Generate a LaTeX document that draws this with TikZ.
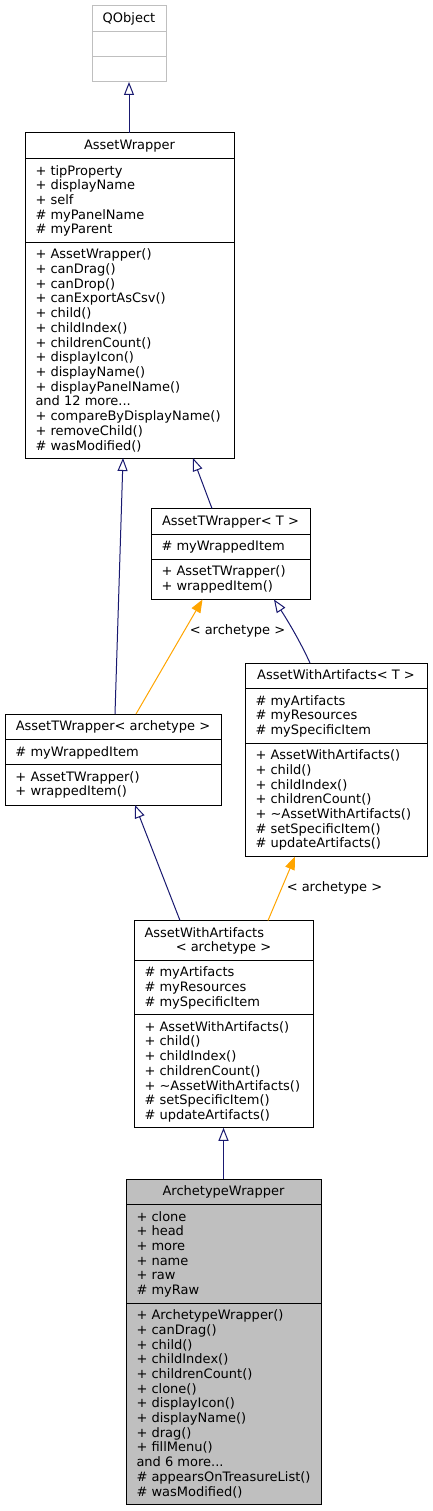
\documentclass[tikz,border=0pt]{standalone}
\usepackage{fontspec}
\setmainfont{DejaVu Sans}
\usetikzlibrary{arrows.meta,calc}
\definecolor{edgeblue}{HTML}{191970}
\definecolor{tmplorange}{HTML}{FFA500}
\definecolor{greyseventyfive}{HTML}{BFBFBF}
\newcommand\tdots{...}
\tikzset{
  frame/.style={draw=black, line width=1pt, fill=white, inner sep=0pt, outer sep=0pt, anchor=north west},
  txt/.style={inner sep=0pt, outer sep=0pt, font=\fontsize{13}{14.7}\selectfont, anchor=base west},
  ttl/.style={txt, anchor=base},
  divider/.style={draw=black, line width=1pt},
  inherit/.style={draw=edgeblue, line width=1pt, -{Triangle[open, length=13pt, width=10pt]}},
  tmpl/.style={draw=tmplorange, line width=1pt, -{Triangle[length=13pt, width=10pt]}},
  tlabel/.style={txt, anchor=base},
}
\newcommand\boxlines[4]{%
  \foreach \t [count=\i from 0] in {#4} {\node[txt] (#1-\i) at (#2, #3+\i*14.7) {\t};}}
\begin{document}
\begin{tikzpicture}[x=1pt,y=-1pt]
\fill[white] (0,0) rectangle (432,1511);
\useasboundingbox (0,0) rectangle (432,1511);

% QObject
\node[frame, draw=greyseventyfive, minimum width=74pt, minimum height=76pt] (qo) at (92,6) {};
\draw[divider, draw=greyseventyfive] (92,31.5) -- (166,31.5);
\draw[divider, draw=greyseventyfive] (92,56.5) -- (166,56.5);
\node[ttl] (qo-t) at (129,22.6) {QObject};

% AssetWrapper
\node[frame, minimum width=209pt, minimum height=325pt] (aw) at (25,133) {};
\draw[divider] (25,158.5) -- (234,158.5);
\draw[divider] (25,242.3) -- (234,242.3);
\node[ttl] (aw-t) at (129.5,149.6) {AssetWrapper};
\boxlines{awa}{35.5}{175.1}{+ tipProperty, + displayName, + self, \# myPanelName, \# myParent}
\boxlines{awm}{35.5}{258.9}{+ AssetWrapper(), + canDrag(), + canDrop(), + canExportAsCsv(), + child(), + childIndex(), + childrenCount(), + displayIcon(), + displayName(), + displayPanelName(), and 12 more\tdots, + compareByDisplayName(), + removeChild(), \# wasModified()}

% AssetTWrapper< T >
\node[frame, minimum width=159pt, minimum height=91pt] (atw) at (151,508.5) {};
\draw[divider] (151,534) -- (310,534);
\draw[divider] (151,559) -- (310,559);
\node[ttl] (atw-t) at (230.5,525.1) {AssetTWrapper< T >};
\boxlines{atwa}{161.5}{550.6}{\# myWrappedItem}
\boxlines{atwm}{161.5}{575.6}{+ AssetTWrapper(), + wrappedItem()}

% AssetWithArtifacts< T >
\node[frame, minimum width=182pt, minimum height=193.6pt] (awat) at (245,663) {};
\draw[divider] (245,688.5) -- (427,688.5);
\draw[divider] (245,743) -- (427,743);
\node[ttl] (awat-t) at (336,679.6) {AssetWithArtifacts< T >};
\boxlines{awata}{255.5}{705.1}{\# myArtifacts, \# myResources, \# mySpecificItem}
\boxlines{awatm}{255.5}{759.6}{+ AssetWithArtifacts(), + child(), + childIndex(), + childrenCount(), + \textasciitilde AssetWithArtifacts(), \# setSpecificItem(), \# updateArtifacts()}

% AssetTWrapper< archetype >
\node[frame, minimum width=216pt, minimum height=91pt] (atwx) at (5,714) {};
\draw[divider] (5,739.5) -- (221,739.5);
\draw[divider] (5,764.5) -- (221,764.5);
\node[ttl] (atwx-t) at (113,730.6) {AssetTWrapper< archetype >};
\boxlines{atwxa}{15.5}{756.1}{\# myWrappedItem}
\boxlines{atwxm}{15.5}{781.1}{+ AssetTWrapper(), + wrappedItem()}

% AssetWithArtifacts< archetype >
\node[frame, minimum width=179pt, minimum height=207.3pt] (awax) at (134,920.5) {};
\draw[divider] (134,960.2) -- (313,960.2);
\draw[divider] (134,1014.6) -- (313,1014.6);
\node[txt] (awax-t1) at (144.5,937.1) {AssetWithArtifacts};
\node[ttl] (awax-t2) at (223.5,951.8) {< archetype >};
\boxlines{awaxa}{144.5}{976.8}{\# myArtifacts, \# myResources, \# mySpecificItem}
\boxlines{awaxm}{144.5}{1031.2}{+ AssetWithArtifacts(), + child(), + childIndex(), + childrenCount(), + \textasciitilde AssetWithArtifacts(), \# setSpecificItem(), \# updateArtifacts()}

% ArchetypeWrapper
\node[frame, fill=greyseventyfive, minimum width=195pt, minimum height=325.4pt] (arw) at (126,1179) {};
\draw[divider] (126,1204.5) -- (321,1204.5);
\draw[divider] (126,1303) -- (321,1303);
\node[ttl] (arw-t) at (223.5,1195.6) {ArchetypeWrapper};
\boxlines{arwa}{136.5}{1221.1}{+ clone, + head, + more, + name, + raw, \# myRaw}
\boxlines{arwm}{136.5}{1319.6}{+ ArchetypeWrapper(), + canDrag(), + child(), + childIndex(), + childrenCount(), + clone(), + displayIcon(), + displayName(), + drag(), + fillMenu(), and 6 more\tdots, \# appearsOnTreasureList(), \# wasModified()}

% connectors
\draw[inherit] ([xshift=-0.5pt]aw.north) -- (qo.south);
\draw[inherit] ([xshift=-18.5pt]atw.north) -- ([xshift=63.5pt]aw.south);
\draw[inherit] ([xshift=2pt]atwx.north) -- ([xshift=-6.5pt]aw.south);
\draw[tmpl] ([xshift=23pt]atwx.north) -- ([xshift=-28pt]atw.south);
\node[tlabel] (lab1) at (237.5,634.5) {< archetype >};
\draw[inherit] ([xshift=-26pt]awat.north) .. controls ($([xshift=-26pt]awat.north)+(-10,-22)$) and ($([xshift=43.5pt]atw.south)+(13,20)$) .. ([xshift=43.5pt]atw.south);
\draw[inherit] ([xshift=-43.5pt]awax.north) -- ([xshift=22pt]atwx.south);
\draw[tmpl] ([xshift=44.5pt]awax.north) -- ([xshift=-41pt]awat.south);
\node[tlabel] (lab2) at (334.5,891) {< archetype >};
\draw[inherit] (arw.north) -- (awax.south);
\end{tikzpicture}
\end{document}
